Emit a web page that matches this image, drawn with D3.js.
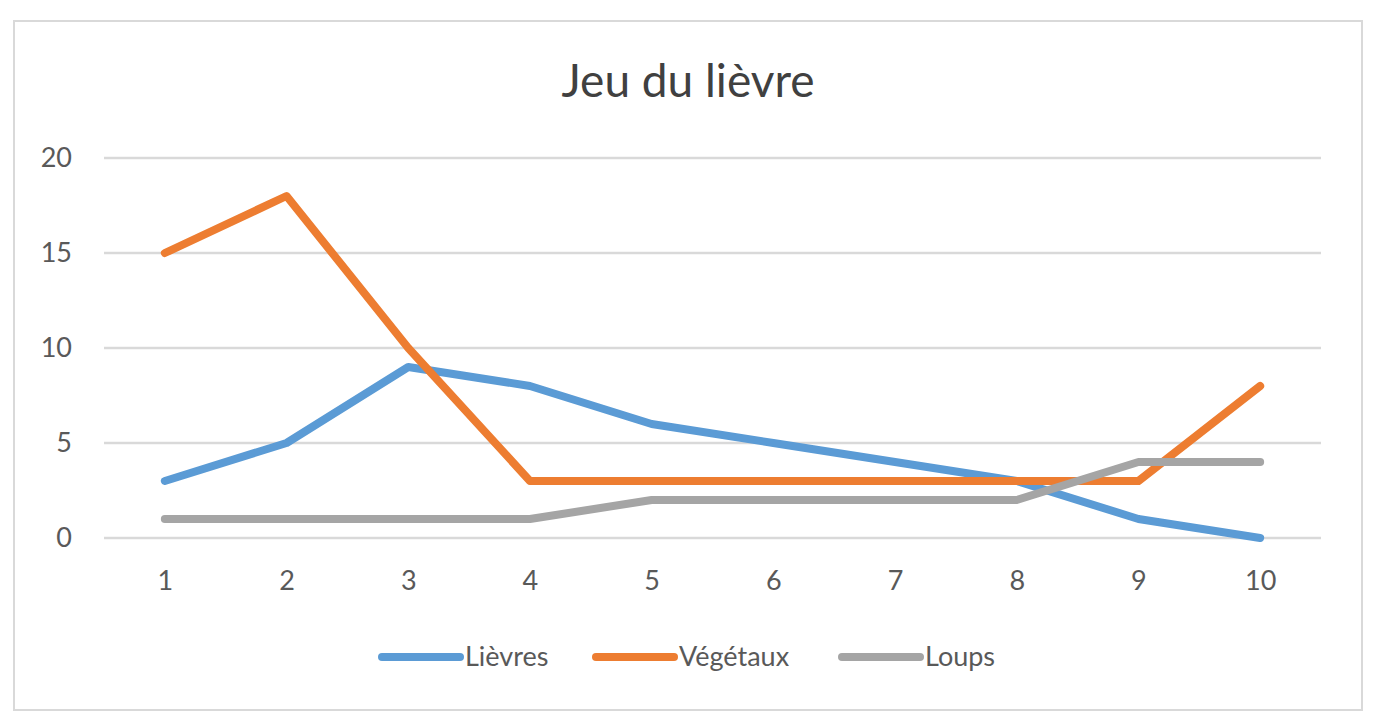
<!DOCTYPE html>
<html lang="fr">
<head>
<meta charset="UTF-8">
<title>Jeu du lièvre</title>
<script src="https://cdnjs.cloudflare.com/ajax/libs/d3/7.8.5/d3.min.js"></script>
<style>
  body { margin: 0; background: #fff; }
  svg { display: block; font-family: Lato, "Open Sans", sans-serif; }
</style>
</head>
<body>
<div id="chart"></div>
<script>
const categories = ["1", "2", "3", "4", "5", "6", "7", "8", "9", "10"];
const lievres = [3, 5, 9, 8, 6, 5, 4, 3, 1, 0];
const vegetaux = [15, 18, 10, 3, 3, 3, 3, 3, 3, 8];
const loups = [1, 1, 1, 1, 2, 2, 2, 2, 4, 4];
const yTicks = [0, 5, 10, 15, 20];

const series = [
  { name: "Lièvres", values: lievres, color: "#5b9bd5" },
  { name: "Végétaux", values: vegetaux, color: "#ed7d31" },
  { name: "Loups", values: loups, color: "#a5a5a5" }
];

const width = 1376, height = 726;
const plot = { left: 104, right: 1321, top: 158, bottom: 538 };
const labelSize = 27;

const svg = d3.select("#chart").append("svg")
  .attr("width", width).attr("height", height);

// chart frame
svg.append("rect")
  .attr("x", 14).attr("y", 21)
  .attr("width", 1348).attr("height", 689)
  .attr("fill", "#fff").attr("stroke", "#d9d9d9").attr("stroke-width", 2);

svg.append("text")
  .attr("x", 688).attr("y", 97)
  .attr("text-anchor", "middle")
  .attr("font-size", 46).attr("fill", "#404040")
  .text("Jeu du lièvre");

const x = d3.scalePoint().domain(categories)
  .range([plot.left, plot.right]).padding(0.5);
const y = d3.scaleLinear().domain([0, 20])
  .range([plot.bottom, plot.top]);

// gridlines
svg.append("g").selectAll("line").data(yTicks).join("line")
  .attr("x1", plot.left).attr("x2", plot.right)
  .attr("y1", d => y(d)).attr("y2", d => y(d))
  .attr("stroke", "#d9d9d9").attr("stroke-width", 2.5);

// y axis labels
const yAxis = svg.append("g")
  .attr("transform", `translate(${plot.left - 32},0)`)
  .call(d3.axisLeft(y).tickValues(yTicks).tickSize(0).tickPadding(0));
yAxis.select(".domain").remove();
yAxis.selectAll("text").attr("font-size", labelSize).attr("fill", "#595959")
  .attr("font-family", "Lato, 'Open Sans', sans-serif");

// x axis labels
const xAxis = svg.append("g")
  .attr("transform", `translate(0,${plot.bottom + 33})`)
  .call(d3.axisBottom(x).tickSize(0).tickPadding(0));
xAxis.select(".domain").remove();
xAxis.selectAll("text").attr("font-size", labelSize).attr("fill", "#595959")
  .attr("font-family", "Lato, 'Open Sans', sans-serif");

const line = d3.line()
  .x((d, i) => x(categories[i]))
  .y(d => y(d));

svg.append("g").selectAll("path").data(series).join("path")
  .attr("d", d => line(d.values))
  .attr("fill", "none")
  .attr("stroke", d => d.color)
  .attr("stroke-width", 8)
  .attr("stroke-linecap", "round")
  .attr("stroke-linejoin", "round");

// legend
const legendX = [382, 596, 842];
const legend = svg.append("g").selectAll("g").data(series).join("g")
  .attr("transform", (d, i) => `translate(${legendX[i]},657)`);
legend.append("line")
  .attr("x1", 0).attr("x2", 78)
  .attr("stroke", d => d.color).attr("stroke-width", 8)
  .attr("stroke-linecap", "round");
legend.append("text")
  .attr("x", 83).attr("y", 9)
  .attr("font-size", labelSize).attr("fill", "#595959")
  .text(d => d.name);
</script>
</body>
</html>
